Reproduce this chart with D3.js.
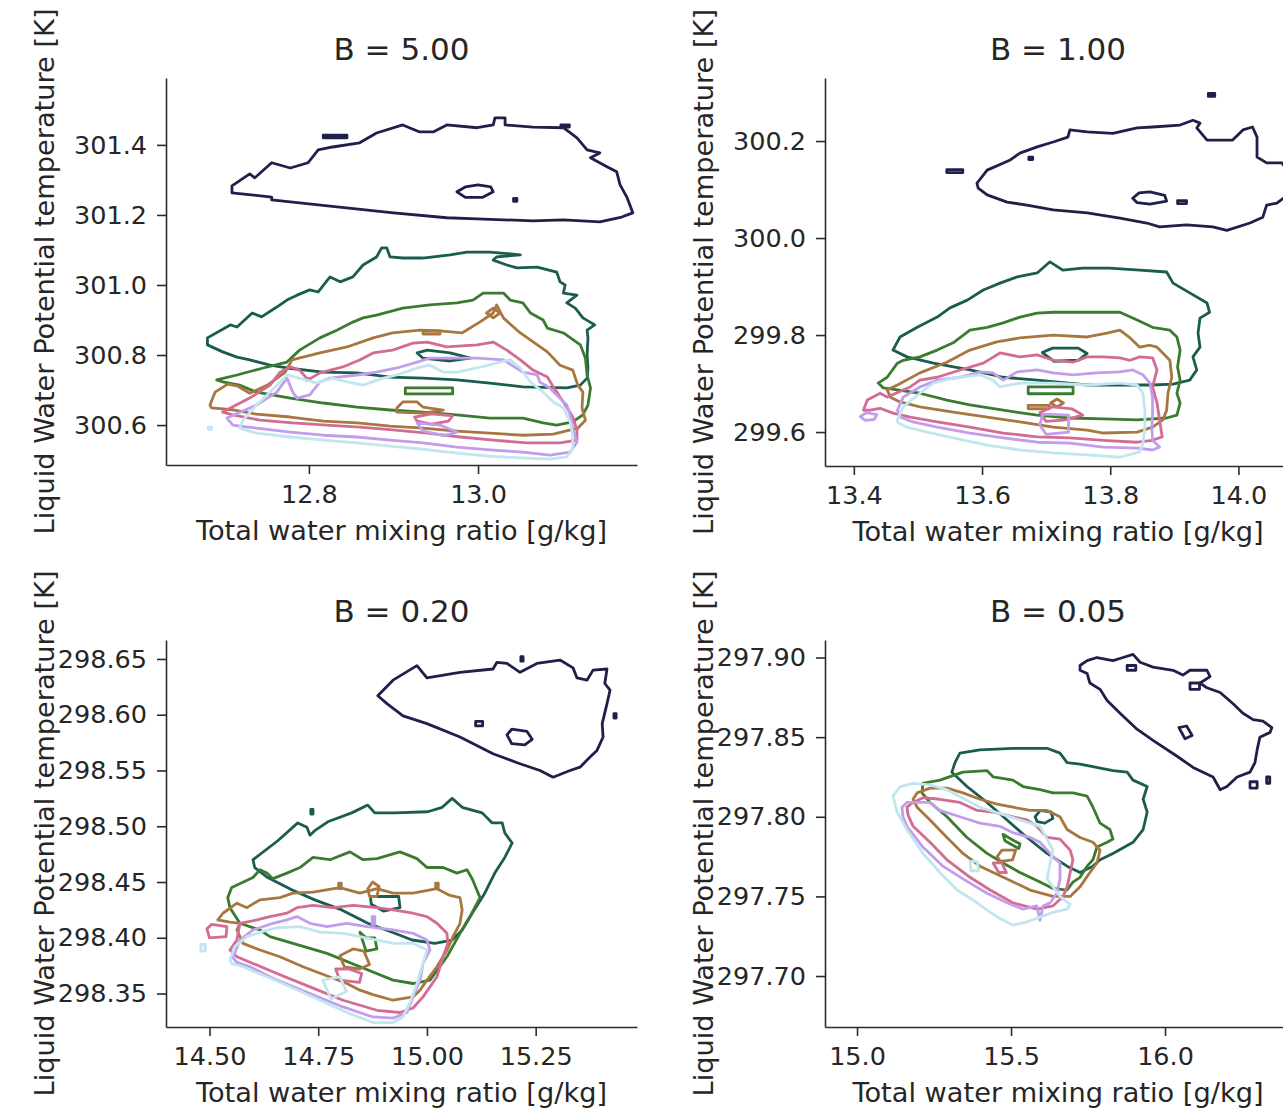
<!DOCTYPE html>
<html>
<head>
<meta charset="utf-8">
<script src="https://cdn.jsdelivr.net/npm/d3@7"></script>
<style>
  body { margin: 0; background: #fff; }
  svg { display: block; }
  text { font-family: "DejaVu Sans", sans-serif; fill: #262626; }
</style>
</head>
<body>
<svg id="fig" width="1283" height="1110"></svg>
<script>
// one colour per contour set, dark to light
const levelColors = ["#1e2049", "#1b5c50", "#3b7b2f", "#a8773f", "#d36b92", "#c29ded", "#c2e6ef"];
const titles = ["B = 5.00", "B = 1.00", "B = 0.20", "B = 0.05"];
const xLabel = "Total water mixing ratio [g/kg]";
const yLabel = "Liquid Water Potential temperature [K]";

const xTicksB500 = [12.8, 13.0];
const yTicksB500 = [300.6, 300.8, 301.0, 301.2, 301.4];
const xTicksB100 = [13.4, 13.6, 13.8, 14.0];
const yTicksB100 = [299.6, 299.8, 300.0, 300.2];
const xTicksB020 = [14.50, 14.75, 15.00, 15.25];
const yTicksB020 = [298.35, 298.40, 298.45, 298.50, 298.55, 298.60, 298.65];
const xTicksB005 = [15.0, 15.5, 16.0];
const yTicksB005 = [297.70, 297.75, 297.80, 297.85, 297.90];

// ---- B = 5.00 : rings of [qt, thetal] per contour set ----
const b500Navy = [
  [[12.709,301.283],[12.730,301.317],[12.736,301.306],[12.756,301.349],[12.778,301.334],[12.799,301.349],[12.811,301.386],[12.828,301.394],[12.860,301.406],[12.880,301.434],[12.911,301.457],[12.931,301.437],[12.947,301.437],[12.963,301.457],[12.999,301.449],[13.018,301.457],[13.020,301.477],[13.032,301.477],[13.032,301.457],[13.065,301.451],[13.101,301.449],[13.117,301.420],[13.129,301.386],[13.144,301.377],[13.133,301.363],[13.153,301.337],[13.164,301.323],[13.168,301.286],[13.176,301.251],[13.183,301.206],[13.170,301.194],[13.144,301.180],[13.101,301.186],[13.065,301.183],[12.999,301.189],[12.963,301.192],[12.900,301.206],[12.811,301.229],[12.756,301.243],[12.756,301.251],[12.709,301.263]],
  [[12.817,301.428],[12.845,301.428],[12.845,301.420],[12.817,301.420]],
  [[12.975,301.266],[12.985,301.280],[13.000,301.286],[13.015,301.280],[13.018,301.266],[13.005,301.250],[12.985,301.250]],
  [[13.042,301.247],[13.046,301.247],[13.046,301.239],[13.042,301.239]],
  [[13.098,301.457],[13.108,301.457],[13.108,301.451],[13.098,301.451]]
];
const b500Teal = [
  [[12.680,300.849],[12.707,300.886],[12.715,300.880],[12.733,300.920],[12.744,300.909],[12.762,300.937],[12.774,300.957],[12.786,300.971],[12.801,300.986],[12.811,300.980],[12.825,301.023],[12.837,301.009],[12.852,301.023],[12.864,301.057],[12.880,301.080],[12.886,301.106],[12.892,301.106],[12.896,301.080],[12.911,301.077],[12.935,301.077],[12.967,301.086],[12.987,301.094],[13.014,301.094],[13.050,301.086],[13.022,301.080],[13.018,301.071],[13.034,301.057],[13.046,301.049],[13.070,301.051],[13.093,301.037],[13.097,301.009],[13.103,301.000],[13.101,300.977],[13.117,300.971],[13.105,300.949],[13.115,300.934],[13.124,300.906],[13.138,300.886],[13.129,300.871],[13.130,300.849],[13.129,300.800],[13.130,300.763],[13.129,300.734],[13.121,300.714],[13.105,300.706],[13.053,300.709],[13.014,300.720],[12.975,300.729],[12.935,300.734],[12.896,300.737],[12.857,300.749],[12.817,300.751],[12.774,300.763],[12.754,300.771],[12.730,300.786],[12.715,300.794],[12.698,300.809],[12.680,300.829]],
  [[12.928,300.806],[12.940,300.814],[12.967,300.806],[12.991,300.791],[12.967,300.783],[12.935,300.791]]
];
const b500Green = [
  [[12.691,300.729],[12.715,300.743],[12.746,300.763],[12.774,300.780],[12.789,300.814],[12.813,300.849],[12.833,300.871],[12.852,300.894],[12.864,300.906],[12.880,300.914],[12.911,300.934],[12.943,300.943],[12.975,300.949],[12.994,300.957],[13.006,300.977],[13.030,300.977],[13.038,300.957],[13.053,300.949],[13.062,300.920],[13.077,300.900],[13.082,300.877],[13.101,300.863],[13.121,300.829],[13.127,300.791],[13.129,300.743],[13.133,300.706],[13.130,300.657],[13.124,300.629],[13.112,300.609],[13.093,300.600],[13.077,300.606],[13.053,300.620],[13.014,300.620],[12.975,300.629],[12.935,300.637],[12.896,300.643],[12.857,300.651],[12.817,300.663],[12.778,300.677],[12.738,300.694],[12.718,300.714],[12.698,300.723]],
  [[12.914,300.706],[12.970,300.706],[12.970,300.689],[12.914,300.689]]
];
const b500Brown = [
  [[12.683,300.657],[12.689,300.694],[12.704,300.717],[12.716,300.711],[12.730,300.691],[12.751,300.714],[12.772,300.751],[12.780,300.786],[12.813,300.806],[12.845,300.823],[12.876,300.849],[12.899,300.863],[12.931,300.871],[12.955,300.869],[12.981,300.863],[13.002,300.894],[13.018,300.920],[13.022,300.943],[13.030,300.906],[13.050,300.863],[13.082,300.809],[13.097,300.771],[13.112,300.757],[13.118,300.714],[13.124,300.694],[13.123,300.649],[13.127,300.614],[13.118,300.591],[13.089,300.574],[13.053,300.571],[13.014,300.577],[12.975,300.583],[12.935,300.591],[12.896,300.597],[12.857,300.606],[12.817,300.611],[12.778,300.623],[12.738,300.631],[12.712,300.643],[12.685,300.649]],
  [[13.018,300.934],[13.026,300.920],[13.018,300.906],[13.010,300.920]],
  [[12.935,300.869],[12.955,300.869],[12.955,300.860],[12.935,300.860]],
  [[12.904,300.649],[12.911,300.666],[12.928,300.666],[12.935,300.651],[12.959,300.643],[12.935,300.634],[12.904,300.637]]
];
const b500Pink = [
  [[12.698,300.637],[12.730,300.677],[12.754,300.714],[12.766,300.751],[12.778,300.766],[12.789,300.757],[12.799,300.729],[12.813,300.749],[12.840,300.766],[12.860,300.786],[12.876,300.806],[12.899,300.814],[12.923,300.834],[12.940,300.837],[12.963,300.823],[12.999,300.829],[13.018,300.837],[13.034,300.814],[13.050,300.786],[13.065,300.757],[13.082,300.737],[13.089,300.709],[13.097,300.680],[13.105,300.651],[13.112,300.623],[13.117,300.586],[13.117,300.557],[13.097,300.549],[13.058,300.549],[13.018,300.557],[12.979,300.566],[12.940,300.577],[12.899,300.586],[12.860,300.594],[12.821,300.600],[12.781,300.606],[12.742,300.614],[12.710,300.629]],
  [[12.925,300.623],[12.945,300.632],[12.970,300.626],[12.965,300.611],[12.945,300.603],[12.928,300.611]],
  [[12.797,300.733],[12.801,300.733],[12.801,300.727],[12.797,300.727]]
];
const b500Lavender = [
  [[12.703,300.620],[12.738,300.657],[12.762,300.694],[12.774,300.734],[12.781,300.694],[12.786,300.677],[12.801,300.686],[12.813,300.723],[12.825,300.734],[12.857,300.743],[12.880,300.751],[12.904,300.763],[12.928,300.780],[12.943,300.791],[12.975,300.791],[12.999,300.791],[13.030,300.786],[13.053,300.751],[13.070,300.743],[13.073,300.723],[13.085,300.706],[13.093,300.686],[13.105,300.657],[13.109,300.629],[13.112,300.591],[13.117,300.551],[13.109,300.523],[13.085,300.514],[13.053,300.523],[13.014,300.529],[12.975,300.537],[12.935,300.549],[12.896,300.557],[12.857,300.566],[12.817,300.571],[12.778,300.580],[12.738,300.591],[12.710,300.600]],
  [[12.928,300.606],[12.955,300.600],[12.975,300.580],[12.960,300.570],[12.935,300.583]]
];
const b500Cyan = [
  [[12.722,300.614],[12.738,300.657],[12.754,300.694],[12.774,300.743],[12.789,300.734],[12.809,300.720],[12.828,300.734],[12.845,300.723],[12.864,300.714],[12.888,300.734],[12.904,300.743],[12.928,300.763],[12.943,300.771],[12.959,300.751],[12.975,300.751],[12.999,300.763],[13.026,300.780],[13.038,300.786],[13.050,300.763],[13.062,300.723],[13.077,300.694],[13.089,300.666],[13.101,300.649],[13.109,300.609],[13.112,300.571],[13.112,300.534],[13.105,300.509],[13.085,300.503],[13.053,300.506],[13.014,300.511],[12.975,300.520],[12.935,300.531],[12.896,300.540],[12.857,300.549],[12.817,300.557],[12.778,300.566],[12.738,300.577],[12.718,300.591]],
  [[12.681,300.594],[12.685,300.594],[12.685,300.588],[12.681,300.588]]
];

// ---- B = 1.00 ----
const b100Navy = [
  [[13.592,300.113],[13.608,300.140],[13.644,300.161],[13.659,300.175],[13.686,300.188],[13.711,300.198],[13.734,300.208],[13.737,300.223],[13.764,300.219],[13.804,300.216],[13.842,300.227],[13.866,300.229],[13.909,300.233],[13.929,300.243],[13.940,300.237],[13.935,300.227],[13.951,300.202],[13.991,300.202],[14.007,300.223],[14.022,300.229],[14.029,300.208],[14.029,300.167],[14.044,300.155],[14.068,300.155],[14.080,300.130],[14.077,300.089],[14.060,300.072],[14.044,300.068],[14.038,300.043],[14.018,300.031],[13.982,300.016],[13.960,300.023],[13.919,300.027],[13.877,300.023],[13.857,300.031],[13.815,300.041],[13.764,300.052],[13.711,300.058],[13.670,300.068],[13.639,300.074],[13.608,300.089],[13.594,300.103]],
  [[13.545,300.141],[13.570,300.141],[13.570,300.135],[13.545,300.135]],
  [[13.673,300.167],[13.679,300.167],[13.679,300.162],[13.673,300.162]],
  [[13.953,300.298],[13.963,300.298],[13.963,300.292],[13.953,300.292]],
  [[13.835,300.082],[13.845,300.093],[13.862,300.095],[13.885,300.088],[13.888,300.076],[13.862,300.070],[13.842,300.073]],
  [[13.905,300.077],[13.919,300.077],[13.919,300.071],[13.905,300.071]]
];
const b100Teal = [
  [[13.461,299.769],[13.472,299.796],[13.499,299.816],[13.530,299.837],[13.550,299.856],[13.577,299.872],[13.602,299.893],[13.628,299.907],[13.655,299.920],[13.686,299.928],[13.706,299.951],[13.726,299.934],[13.757,299.938],[13.799,299.938],[13.846,299.934],[13.888,299.930],[13.898,299.907],[13.924,299.887],[13.951,299.866],[13.955,299.847],[13.940,299.835],[13.937,299.804],[13.940,299.775],[13.929,299.755],[13.935,299.728],[13.924,299.707],[13.898,299.699],[13.866,299.697],[13.815,299.697],[13.764,299.697],[13.686,299.707],[13.633,299.713],[13.581,299.728],[13.524,299.742],[13.483,299.755]],
  [[13.694,299.764],[13.710,299.773],[13.750,299.773],[13.764,299.762],[13.750,299.748],[13.712,299.746]]
];
const b100Green = [
  [[13.438,299.701],[13.452,299.713],[13.468,299.742],[13.477,299.748],[13.503,299.755],[13.530,299.769],[13.555,299.784],[13.581,299.810],[13.608,299.816],[13.633,299.825],[13.659,299.837],[13.686,299.845],[13.711,299.847],[13.764,299.847],[13.815,299.847],[13.842,299.831],[13.866,299.816],[13.893,299.810],[13.904,299.796],[13.909,299.769],[13.905,299.734],[13.909,299.707],[13.904,299.680],[13.909,299.660],[13.904,299.635],[13.888,299.629],[13.842,299.625],[13.789,299.627],[13.737,299.629],[13.686,299.635],[13.633,299.645],[13.581,299.656],[13.545,299.666],[13.503,299.680],[13.468,299.687],[13.446,299.691]],
  [[13.672,299.693],[13.742,299.693],[13.742,299.679],[13.672,299.679]]
];
const b100Brown = [
  [[13.452,299.687],[13.468,299.697],[13.503,299.722],[13.545,299.744],[13.581,299.769],[13.623,299.786],[13.659,299.794],[13.711,299.800],[13.764,299.796],[13.795,299.804],[13.815,299.810],[13.831,299.794],[13.846,299.775],[13.862,299.779],[13.873,299.775],[13.882,299.763],[13.893,299.748],[13.896,299.713],[13.890,299.680],[13.888,299.645],[13.882,299.625],[13.866,299.610],[13.842,299.600],[13.789,299.598],[13.764,299.604],[13.711,299.610],[13.659,299.621],[13.608,299.631],[13.555,299.641],[13.503,299.652],[13.472,299.662],[13.457,299.672]],
  [[13.672,299.655],[13.705,299.655],[13.705,299.648],[13.672,299.648]],
  [[13.717,299.668],[13.727,299.660],[13.717,299.652],[13.707,299.660]]
];
const b100Pink = [
  [[13.415,299.645],[13.421,299.666],[13.441,299.680],[13.452,299.672],[13.488,299.693],[13.503,299.707],[13.530,299.713],[13.566,299.728],[13.602,299.742],[13.628,299.763],[13.659,299.755],[13.686,299.759],[13.711,299.748],[13.742,299.744],[13.764,299.755],[13.789,299.755],[13.815,299.753],[13.831,299.748],[13.846,299.755],[13.866,299.753],[13.873,299.728],[13.866,299.693],[13.873,299.660],[13.877,299.625],[13.881,299.590],[13.866,299.583],[13.842,299.579],[13.789,299.583],[13.737,299.588],[13.686,299.590],[13.633,299.598],[13.581,299.610],[13.530,299.621],[13.488,299.631],[13.461,299.639],[13.441,299.649],[13.425,299.645]],
  [[13.690,299.640],[13.710,299.652],[13.740,299.648],[13.757,299.635],[13.730,299.625],[13.700,299.622]]
];
const b100Lavender = [
  [[13.468,299.645],[13.477,299.672],[13.503,299.693],[13.530,299.707],[13.566,299.713],[13.597,299.724],[13.617,299.722],[13.633,299.707],[13.655,299.724],[13.686,299.728],[13.711,299.722],[13.742,299.718],[13.779,299.722],[13.815,299.724],[13.835,299.728],[13.851,299.718],[13.862,299.701],[13.866,299.672],[13.866,299.639],[13.865,299.610],[13.866,299.583],[13.877,299.569],[13.866,299.563],[13.842,299.567],[13.789,299.569],[13.737,299.577],[13.686,299.579],[13.633,299.588],[13.581,299.598],[13.530,299.610],[13.492,299.621],[13.472,299.631]],
  [[13.410,299.632],[13.420,299.640],[13.436,299.636],[13.432,299.626],[13.418,299.624]],
  [[13.695,299.637],[13.735,299.635],[13.735,299.600],[13.700,299.595],[13.690,299.615]]
];
const b100Cyan = [
  [[13.468,299.625],[13.477,299.652],[13.503,299.680],[13.524,299.701],[13.555,299.711],[13.597,299.718],[13.617,299.707],[13.628,299.693],[13.659,299.701],[13.711,299.701],[13.764,299.697],[13.815,299.701],[13.842,299.697],[13.851,299.680],[13.854,299.645],[13.854,299.610],[13.851,299.577],[13.846,299.559],[13.815,299.548],[13.764,299.553],[13.711,299.557],[13.659,299.563],[13.608,299.573],[13.555,299.588],[13.514,299.600],[13.483,299.610],[13.469,299.619]]
];

// ---- B = 0.20 ----
const b020Navy = [
  [[14.887,298.617],[14.922,298.631],[14.977,298.644],[15.000,298.633],[15.076,298.638],[15.152,298.641],[15.161,298.647],[15.184,298.646],[15.214,298.638],[15.253,298.646],[15.306,298.649],[15.336,298.642],[15.345,298.633],[15.368,298.631],[15.382,298.640],[15.414,298.641],[15.409,298.628],[15.421,298.622],[15.414,298.610],[15.403,298.592],[15.405,298.580],[15.391,298.568],[15.375,298.562],[15.352,298.553],[15.329,298.550],[15.290,298.544],[15.260,298.550],[15.214,298.556],[15.152,298.565],[15.076,298.580],[15.000,298.592],[14.945,298.599],[14.908,298.610]],
  [[15.216,298.652],[15.221,298.652],[15.221,298.648],[15.216,298.648]],
  [[15.112,298.594],[15.128,298.594],[15.128,298.590],[15.112,298.590]],
  [[15.184,298.582],[15.195,298.587],[15.230,298.585],[15.242,298.578],[15.225,298.573],[15.195,298.574]],
  [[15.430,298.601],[15.435,298.601],[15.435,298.597],[15.430,298.597]]
];
const b020Teal = [
  [[14.600,298.470],[14.657,298.487],[14.703,298.503],[14.724,298.499],[14.731,298.492],[14.742,298.496],[14.772,298.504],[14.827,298.512],[14.864,298.519],[14.880,298.512],[14.926,298.512],[15.002,298.513],[15.035,298.517],[15.058,298.525],[15.081,298.517],[15.127,298.512],[15.150,298.503],[15.173,298.503],[15.179,298.494],[15.196,298.485],[15.179,298.472],[15.156,298.458],[15.133,298.440],[15.104,298.422],[15.081,298.407],[15.058,298.398],[15.018,298.395],[14.966,298.398],[14.926,298.404],[14.864,298.413],[14.804,298.425],[14.742,298.434],[14.689,298.443],[14.634,298.454],[14.604,298.463]],
  [[14.870,298.437],[14.935,298.437],[14.938,298.427],[14.900,298.424],[14.872,298.430]],
  [[14.733,298.515],[14.738,298.515],[14.738,298.511],[14.733,298.511]]
];
const b020Green = [
  [[14.542,298.436],[14.551,298.445],[14.600,298.454],[14.616,298.461],[14.632,298.458],[14.646,298.453],[14.678,298.458],[14.708,298.463],[14.738,298.472],[14.777,298.470],[14.823,298.477],[14.853,298.470],[14.885,298.471],[14.938,298.477],[14.977,298.471],[15.000,298.463],[15.037,298.463],[15.069,298.458],[15.092,298.461],[15.104,298.453],[15.122,298.436],[15.099,298.419],[15.076,298.404],[15.046,298.383],[15.007,298.362],[14.968,298.359],[14.922,298.362],[14.846,298.374],[14.770,298.386],[14.692,298.395],[14.639,298.401],[14.616,298.407],[14.570,298.413],[14.547,298.427]],
  [[14.846,298.405],[14.860,298.400],[14.880,298.400],[14.885,298.390],[14.860,298.388]]
];
const b020Brown = [
  [[14.519,298.416],[14.531,298.422],[14.563,298.431],[14.586,298.427],[14.616,298.434],[14.662,298.436],[14.692,298.440],[14.738,298.441],[14.800,298.445],[14.846,298.440],[14.885,298.444],[14.922,298.440],[14.968,298.440],[15.023,298.444],[15.053,298.438],[15.076,298.436],[15.081,298.425],[15.076,298.413],[15.060,298.401],[15.046,298.389],[15.023,298.374],[15.000,298.362],[14.984,298.353],[14.968,298.347],[14.922,298.344],[14.876,298.349],[14.846,298.353],[14.816,298.359],[14.715,298.374],[14.662,298.383],[14.616,298.389],[14.577,298.395],[14.563,298.407],[14.570,298.413],[14.547,298.414]],
  [[14.800,298.384],[14.830,298.390],[14.855,298.388],[14.868,298.376],[14.845,298.372],[14.810,298.374]],
  [[14.864,298.444],[14.875,298.450],[14.890,298.446],[14.885,298.437],[14.868,298.437]],
  [[14.797,298.449],[14.803,298.449],[14.803,298.444],[14.797,298.444]],
  [[15.020,298.449],[15.026,298.449],[15.026,298.444],[15.020,298.444]]
];
const b020Pink = [
  [[14.563,298.398],[14.570,298.413],[14.609,298.416],[14.639,298.419],[14.678,298.422],[14.701,298.427],[14.738,298.429],[14.784,298.427],[14.830,298.429],[14.885,298.427],[14.922,298.425],[14.968,298.422],[15.000,298.419],[15.023,298.413],[15.046,298.404],[15.048,298.395],[15.037,298.383],[15.023,298.365],[14.991,298.347],[14.968,298.337],[14.938,298.333],[14.885,298.335],[14.807,298.344],[14.731,298.356],[14.655,298.368],[14.600,298.377],[14.563,298.383],[14.547,298.389]],
  [[14.494,298.408],[14.505,298.412],[14.540,298.410],[14.538,298.401],[14.500,298.400]],
  [[14.790,298.372],[14.820,298.372],[14.850,298.368],[14.845,298.360],[14.800,298.362]]
];
const b020Lavender = [
  [[14.554,298.382],[14.570,298.398],[14.600,298.407],[14.646,298.413],[14.678,298.416],[14.701,298.419],[14.731,298.413],[14.770,298.410],[14.816,298.413],[14.862,298.410],[14.922,298.407],[14.968,298.404],[15.000,298.398],[15.007,298.389],[14.991,298.377],[14.984,298.362],[14.968,298.347],[14.954,298.333],[14.922,298.328],[14.876,298.329],[14.807,298.338],[14.731,298.350],[14.655,298.362],[14.593,298.374],[14.563,298.378]],
  [[14.874,298.419],[14.880,298.419],[14.880,298.412],[14.874,298.412]]
];
const b020Cyan = [
  [[14.547,298.380],[14.558,298.392],[14.586,298.401],[14.616,298.405],[14.655,298.409],[14.708,298.410],[14.754,298.405],[14.807,298.404],[14.846,298.401],[14.885,298.398],[14.922,298.395],[14.968,298.395],[15.000,298.389],[14.991,298.377],[14.977,298.359],[14.961,298.342],[14.945,298.329],[14.922,298.324],[14.876,298.324],[14.816,298.333],[14.754,298.344],[14.692,298.355],[14.632,298.365],[14.577,298.374],[14.551,298.377]],
  [[14.480,298.394],[14.490,298.394],[14.490,298.388],[14.480,298.388]],
  [[14.760,298.362],[14.800,298.365],[14.815,298.352],[14.780,298.345]]
];

// ---- B = 0.05 ----
const b005Navy = [
  [[15.724,297.895],[15.747,297.898],[15.779,297.900],[15.831,297.898],[15.864,297.900],[15.896,297.902],[15.919,297.897],[15.961,297.894],[16.026,297.892],[16.058,297.889],[16.081,297.892],[16.136,297.892],[16.146,297.888],[16.114,297.884],[16.136,297.881],[16.179,297.878],[16.221,297.871],[16.253,297.865],[16.286,297.861],[16.318,297.860],[16.347,297.856],[16.341,297.853],[16.308,297.850],[16.299,297.842],[16.292,297.834],[16.276,297.828],[16.234,297.825],[16.201,297.819],[16.179,297.817],[16.156,297.825],[16.091,297.831],[16.039,297.838],[15.961,297.848],[15.909,297.855],[15.854,297.865],[15.812,297.873],[15.789,297.880],[15.756,297.884],[15.747,297.890],[15.724,297.892]],
  [[15.877,297.895],[15.905,297.895],[15.905,297.892],[15.877,297.892]],
  [[16.081,297.884],[16.112,297.884],[16.112,297.880],[16.081,297.880]],
  [[16.045,297.856],[16.070,297.857],[16.088,297.851],[16.065,297.849]],
  [[16.276,297.822],[16.299,297.822],[16.299,297.818],[16.276,297.818]],
  [[16.330,297.825],[16.340,297.825],[16.340,297.821],[16.330,297.821]]
];
const b005Teal = [
  [[15.308,297.828],[15.318,297.834],[15.334,297.840],[15.399,297.842],[15.506,297.843],[15.617,297.843],[15.659,297.840],[15.682,297.834],[15.724,297.833],[15.831,297.829],[15.877,297.828],[15.896,297.823],[15.942,297.819],[15.929,297.811],[15.942,297.803],[15.929,297.792],[15.896,297.784],[15.831,297.777],[15.789,297.773],[15.766,297.769],[15.724,297.765],[15.682,297.769],[15.617,297.777],[15.552,297.787],[15.487,297.798],[15.422,297.809],[15.357,297.819]],
  [[15.578,297.800],[15.595,297.804],[15.630,297.803],[15.636,297.799],[15.610,297.796],[15.585,297.797]]
];
const b005Green = [
  [[15.211,297.815],[15.214,297.821],[15.269,297.823],[15.344,297.828],[15.422,297.829],[15.442,297.825],[15.506,297.823],[15.539,297.819],[15.594,297.817],[15.636,297.815],[15.701,297.815],[15.747,297.813],[15.766,297.806],[15.789,297.796],[15.821,297.792],[15.831,297.786],[15.812,297.784],[15.779,297.781],[15.766,297.773],[15.747,297.769],[15.724,297.762],[15.701,297.759],[15.682,297.754],[15.636,297.755],[15.594,297.759],[15.529,297.765],[15.474,297.771],[15.422,297.777],[15.357,297.787],[15.292,297.800],[15.237,297.809]],
  [[15.474,297.789],[15.500,297.786],[15.529,297.783],[15.525,297.780],[15.480,297.785]]
];
const b005Brown = [
  [[15.182,297.811],[15.195,297.815],[15.237,297.818],[15.292,297.818],[15.344,297.815],[15.399,297.811],[15.455,297.808],[15.506,297.806],[15.562,297.804],[15.617,297.804],[15.659,297.800],[15.682,297.792],[15.724,297.787],[15.766,297.784],[15.789,297.779],[15.779,297.771],[15.756,297.765],[15.724,297.756],[15.692,297.750],[15.636,297.750],[15.562,297.754],[15.487,297.761],[15.399,297.769],[15.344,297.777],[15.292,297.787],[15.237,297.798],[15.195,297.806]],
  [[15.455,297.775],[15.470,297.779],[15.515,297.779],[15.505,297.773],[15.465,297.772]]
];
const b005Pink = [
  [[15.162,297.806],[15.182,297.809],[15.214,297.812],[15.269,297.811],[15.334,297.809],[15.390,297.804],[15.442,297.803],[15.506,297.800],[15.552,297.798],[15.584,297.794],[15.617,297.787],[15.659,297.786],[15.692,297.779],[15.701,297.773],[15.692,297.765],[15.682,297.756],[15.669,297.750],[15.636,297.744],[15.584,297.742],[15.506,297.746],[15.432,297.754],[15.367,297.762],[15.292,297.773],[15.237,297.784],[15.182,297.794],[15.166,297.801]],
  [[15.442,297.771],[15.470,297.771],[15.485,297.765],[15.460,297.765]]
];
const b005Lavender = [
  [[15.146,297.806],[15.162,297.809],[15.237,297.809],[15.269,297.804],[15.334,297.800],[15.399,297.796],[15.464,297.794],[15.506,297.790],[15.562,297.787],[15.594,297.784],[15.636,297.775],[15.659,297.771],[15.659,297.761],[15.649,297.752],[15.627,297.746],[15.604,297.744],[15.594,297.735],[15.584,297.744],[15.539,297.742],[15.487,297.746],[15.422,297.752],[15.344,297.761],[15.279,297.769],[15.214,297.781],[15.162,297.794],[15.149,297.800]]
];
const b005Cyan = [
  [[15.117,297.813],[15.140,297.819],[15.182,297.821],[15.237,297.820],[15.292,297.817],[15.399,297.806],[15.594,297.794],[15.617,297.786],[15.636,297.779],[15.627,297.771],[15.617,297.761],[15.659,297.750],[15.692,297.745],[15.682,297.742],[15.636,297.740],[15.594,297.737],[15.552,297.734],[15.506,297.732],[15.455,297.737],[15.390,297.746],[15.325,297.754],[15.269,297.765],[15.214,297.777],[15.162,297.792],[15.130,297.803]],
  [[15.367,297.772],[15.390,297.772],[15.395,297.766],[15.370,297.766]]
];

const contoursB500 = [b500Navy, b500Teal, b500Green, b500Brown, b500Pink, b500Lavender, b500Cyan];
const contoursB100 = [b100Navy, b100Teal, b100Green, b100Brown, b100Pink, b100Lavender, b100Cyan];
const contoursB020 = [b020Navy, b020Teal, b020Green, b020Brown, b020Pink, b020Lavender, b020Cyan];
const contoursB005 = [b005Navy, b005Teal, b005Green, b005Brown, b005Pink, b005Lavender, b005Cyan];

const TICK_FONT = 25.5;
const LABEL_FONT = 27.2;
const TITLE_FONT = 31;
const AXIS_COLOR = "#2b2b2b";

const panels = [
  { title: titles[0], left: 166, top: 78, width: 471, height: 387, xDomain: [12.631, 13.188], yDomain: [300.486, 301.591], xTicks: xTicksB500, yTicks: yTicksB500, xFmt: ".1f", yFmt: ".1f", sets: contoursB500 },
  { title: titles[1], left: 825, top: 78, width: 466, height: 388, xDomain: [13.355, 14.082], yDomain: [299.530, 300.330], xTicks: xTicksB100, yTicks: yTicksB100, xFmt: ".1f", yFmt: ".1f", sets: contoursB100 },
  { title: titles[2], left: 166, top: 640, width: 471, height: 387, xDomain: [14.400, 15.483], yDomain: [298.320, 298.667], xTicks: xTicksB020, yTicks: yTicksB020, xFmt: ".2f", yFmt: ".2f", sets: contoursB020 },
  { title: titles[3], left: 825, top: 640, width: 466, height: 387, xDomain: [14.896, 16.409], yDomain: [297.668, 297.911], xTicks: xTicksB005, yTicks: yTicksB005, xFmt: ".1f", yFmt: ".2f", sets: contoursB005 }
];

const svg = d3.select("#fig");

panels.forEach(function(p, i) {
  const x = d3.scaleLinear().domain(p.xDomain).range([0, p.width]);
  const y = d3.scaleLinear().domain(p.yDomain).range([p.height, 0]);
  const g = svg.append("g").attr("transform", "translate(" + p.left + "," + p.top + ")");

  g.append("clipPath").attr("id", "clip" + i)
    .append("rect").attr("width", p.width).attr("height", p.height);

  const line = d3.line()
    .x(d => x(d[0]))
    .y(d => y(d[1]))
    .curve(d3.curveLinearClosed);

  const plot = g.append("g").attr("clip-path", "url(#clip" + i + ")");
  p.sets.forEach(function(rings, k) {
    plot.append("g")
      .selectAll("path")
      .data(rings)
      .join("path")
      .attr("d", line)
      .attr("fill", "none")
      .attr("stroke", levelColors[k])
      .attr("stroke-width", 2.8)
      .attr("stroke-linejoin", "round");
  });

  const xAxis = g.append("g")
    .attr("transform", "translate(0," + p.height + ")")
    .call(d3.axisBottom(x).tickValues(p.xTicks).tickFormat(d3.format(p.xFmt))
      .tickSize(9).tickSizeOuter(0).tickPadding(11));
  const yAxis = g.append("g")
    .call(d3.axisLeft(y).tickValues(p.yTicks).tickFormat(d3.format(p.yFmt))
      .tickSize(9).tickSizeOuter(0).tickPadding(10));

  [xAxis, yAxis].forEach(function(ax) {
    ax.select(".domain").attr("stroke", AXIS_COLOR).attr("stroke-width", 1.6);
    ax.selectAll(".tick line").attr("stroke", AXIS_COLOR).attr("stroke-width", 1.6);
    ax.selectAll(".tick text")
      .attr("fill", "#262626")
      .style("font-family", "'DejaVu Sans', sans-serif")
      .style("font-size", TICK_FONT + "px");
  });

  g.append("text")
    .attr("x", p.width / 2)
    .attr("y", p.height + 75)
    .attr("text-anchor", "middle")
    .style("font-size", LABEL_FONT + "px")
    .text(xLabel);

  g.append("text")
    .attr("transform", "translate(-112," + (p.height / 2) + ") rotate(-90)")
    .attr("text-anchor", "middle")
    .style("font-size", LABEL_FONT + "px")
    .text(yLabel);

  g.append("text")
    .attr("x", p.width / 2)
    .attr("y", -18)
    .attr("text-anchor", "middle")
    .style("font-size", TITLE_FONT + "px")
    .text(p.title);
});
</script>
</body>
</html>
